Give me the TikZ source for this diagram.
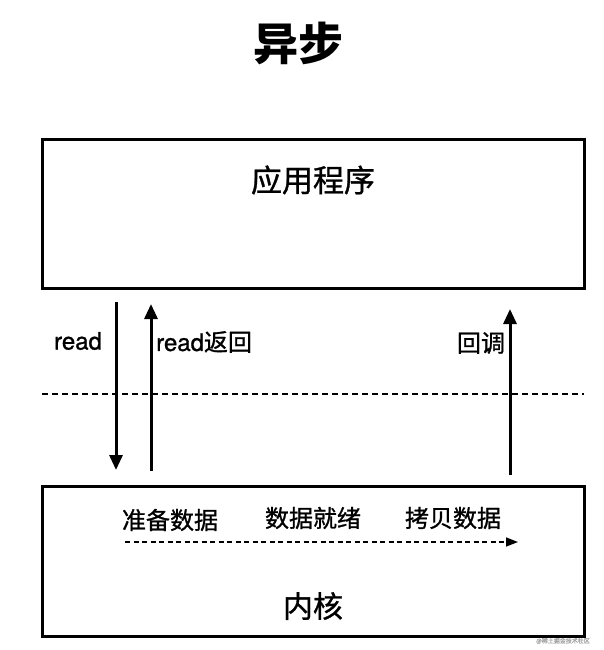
\documentclass[tikz,border=0pt]{standalone}
\usepackage{fontspec}
\setmainfont{Noto Sans CJK SC}[FakeBold=1]
\newfontfamily\titlef{Noto Sans CJK SC}
\newfontfamily\latinf{TeX Gyre Heros}[FakeBold=1]
\usetikzlibrary{arrows.meta}
\begin{document}
\begin{tikzpicture}[x=1pt,y=-1pt,
  bigbox/.style={draw, line width=3pt, minimum width=542pt, minimum height=149pt, inner sep=0pt},
  flow/.style={line width=3pt, -{Triangle[length=15pt,width=13pt]}},
  sep/.style={line width=1.5pt, dash pattern=on 6pt off 4pt},
  stage/.style={line width=1.5pt, dash pattern=on 5pt off 3.5pt, -{Triangle[length=12pt,width=9pt]}},
  boxlabel/.style={font=\fontsize{31}{33}\selectfont, inner sep=0pt},
  small/.style={font=\fontsize{24}{26}\selectfont, inner sep=0pt},
  lat/.style={font=\fontsize{24}{26}\selectfont\latinf, inner sep=0pt}]
\useasboundingbox (0,0) rectangle (604,650);
\node[inner sep=0pt, font=\fontsize{45}{47}\selectfont\titlef\bfseries] (title) at (298,43) {异步};
\node[bigbox] (app) at (313,213.5) {};
\node[boxlabel] (applabel) at (313,180) {应用程序};
\node[bigbox, minimum height=150pt] (kernel) at (313,561) {};
\node[font=\fontsize{30}{32}\selectfont, inner sep=0pt] (kernlabel) at (313,606) {内核};
% separator
\coordinate (sl) at (42,394);
\coordinate (sr) at (584,394);
\draw[sep] (sl) -- (sr);
% arrows
\coordinate (r1) at (116,302);
\coordinate (r2) at (116,470);
\draw[flow] (r1) -- (r2);
\coordinate (b1) at (151,471);
\coordinate (b2) at (151,304);
\draw[flow] (b1) -- (b2);
\coordinate (c1) at (510,475);
\coordinate (c2) at (510,309);
\draw[flow] (c1) -- (c2);
\node[lat] (readl) at (78,341) {read};
\node[small, anchor=west] (retl) at (156,342) {{\latinf read}返回};
\node[small] (cbl) at (481,343) {回调};
% kernel stages
\node[small] (s1) at (170,520) {准备数据};
\node[small] (s2) at (313,518) {数据就绪};
\node[small] (s3) at (453,518) {拷贝数据};
\coordinate (d1) at (125,542);
\coordinate (d2) at (518,542);
\draw[stage] (d1) -- (d2);
\node[font=\fontsize{6}{7}\selectfont, text=gray!70, inner sep=0pt] (wm) at (563,641) {@稀土掘金技术社区};
\end{tikzpicture}
\end{document}
